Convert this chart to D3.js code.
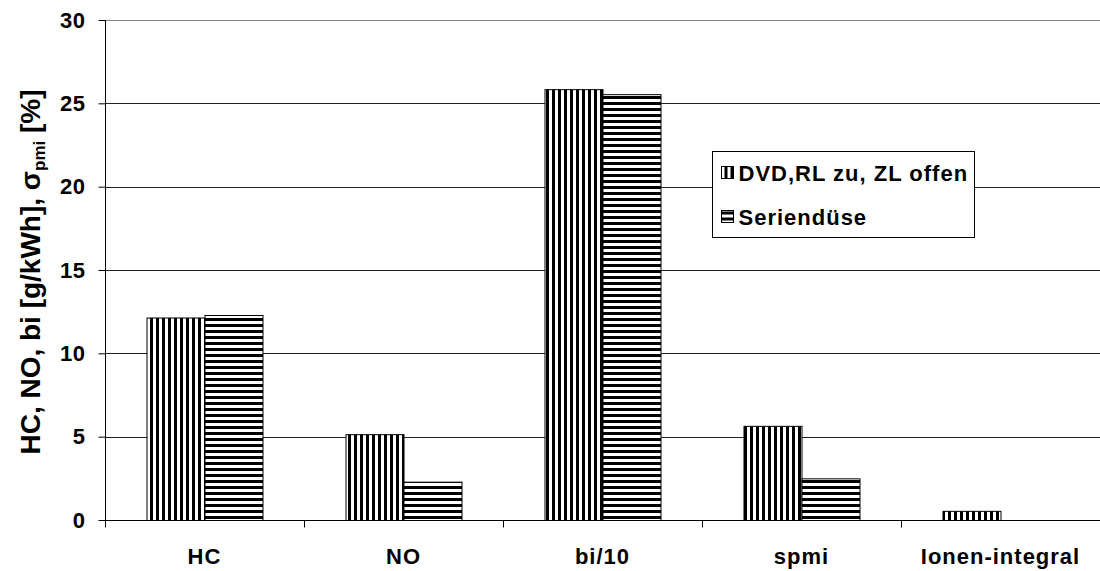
<!DOCTYPE html>
<html>
<head>
<meta charset="utf-8">
<script src="https://cdn.jsdelivr.net/npm/d3@7"></script>
<style>
  html, body { margin: 0; padding: 0; background: #fff; }
  svg { display: block; font-family: "Liberation Sans", Arial, sans-serif; }
</style>
</head>
<body>
<svg id="chart" width="1100" height="571"></svg>
<script>
// Measured quantities per operating point
const categories = ["HC", "NO", "bi/10", "spmi", "Ionen-integral"];
const dvdValues = [12.15, 5.15, 25.85, 5.65, 0.55];
const serieValues = [12.3, 2.3, 25.55, 2.5, null];
const seriesNames = ["DVD,RL zu, ZL offen", "Seriendüse"];
const yTicks = [0, 5, 10, 15, 20, 25, 30];

const svg = d3.select("#chart");
const margin = { left: 105, right: 0, top: 20, bottom: 51 };
const W = 1100, H = 571;

// Stripe fills: vertical for the first series, horizontal for the second
const defs = svg.append("defs");
const pv = defs.append("pattern").attr("id", "vstripe")
  .attr("patternUnits", "userSpaceOnUse").attr("width", 6).attr("height", 6);
pv.append("rect").attr("width", 6).attr("height", 6).attr("fill", "#fff");
pv.append("rect").attr("x", 0).attr("width", 3).attr("height", 6).attr("fill", "#000");
const ph = defs.append("pattern").attr("id", "hstripe")
  .attr("patternUnits", "userSpaceOnUse").attr("width", 6).attr("height", 6);
ph.append("rect").attr("width", 6).attr("height", 6).attr("fill", "#fff");
ph.append("rect").attr("y", 0).attr("width", 6).attr("height", 3).attr("fill", "#000");
const fills = ["url(#vstripe)", "url(#hstripe)"];

const x = d3.scaleBand().domain(categories).range([margin.left, W - margin.right]);
const y = d3.scaleLinear().domain([0, 30]).range([H - margin.bottom, margin.top]);

// Horizontal gridlines
svg.append("g").selectAll("line").data(yTicks.filter(t => t > 0)).join("line")
  .attr("x1", margin.left).attr("x2", W)
  .attr("y1", d => Math.round(y(d)) + 0.5).attr("y2", d => Math.round(y(d)) + 0.5)
  .attr("stroke", d => d === 30 ? "#8a8a8a" : "#222").attr("stroke-width", 1);

// Bars
const barW = 58;
const series = [dvdValues, serieValues];
series.forEach((vals, si) => {
  svg.append("g").selectAll("rect")
    .data(categories.map((c, i) => ({ c, v: vals[i] })).filter(d => d.v != null))
    .join("rect")
    .attr("x", d => x(d.c) + x.bandwidth() / 2 - barW + si * barW + 0.5)
    .attr("width", barW)
    .attr("y", d => y(d.v) + 0.5)
    .attr("height", d => y(0) - y(d.v))
    .attr("fill", fills[si])
    .attr("stroke", "#000").attr("stroke-width", 1);
});

// Y axis
const yAxis = svg.append("g").attr("transform", `translate(${margin.left + 0.5},0)`)
  .call(d3.axisLeft(y).tickValues(yTicks).tickSize(7).tickPadding(13).tickFormat(d3.format("d")));
yAxis.select(".domain").attr("stroke", "#000").attr("d", `M0,${y(30)}V${y(0)}`);
yAxis.selectAll("text").attr("font-size", 22).attr("font-weight", "bold").attr("fill", "#000")
  .attr("letter-spacing", 0.5)
  .attr("font-family", "'Liberation Sans', Arial, sans-serif");

// X axis with ticks on category boundaries
const xg = svg.append("g").attr("transform", `translate(0,${Math.round(y(0)) + 0.5})`);
xg.append("line").attr("x1", margin.left).attr("x2", W).attr("stroke", "#000");
const bounds = categories.map(c => x(c));
xg.selectAll("line.tk").data(bounds).join("line").attr("class", "tk")
  .attr("x1", d => Math.round(d) + 0.5).attr("x2", d => Math.round(d) + 0.5)
  .attr("y1", 0).attr("y2", 7).attr("stroke", "#000");
xg.selectAll("text").data(categories).join("text")
  .attr("x", d => x(d) + x.bandwidth() / 2)
  .attr("y", 43)
  .attr("text-anchor", "middle")
  .attr("letter-spacing", 1)
  .attr("font-size", 22).attr("font-weight", "bold").text(d => d);

// Y axis title with subscript
const yt = svg.append("text")
  .attr("transform", `translate(40,${(y(0) + y(30)) / 2 + 2}) rotate(-90)`)
  .attr("text-anchor", "middle")
  .attr("font-size", 28).attr("font-weight", "bold");
yt.append("tspan").text("HC, NO, bi [g/kWh], σ");
yt.append("tspan").attr("font-size", 17).attr("dy", 5).text("pmi");
yt.append("tspan").attr("dy", -5).text(" [%]");

// Legend
const lg = svg.append("g").attr("transform", "translate(712.5,151.5)");
const box = lg.append("rect").attr("height", 86)
  .attr("fill", "#fff").attr("stroke", "#000");
let maxLen = 0;
seriesNames.forEach((name, i) => {
  const cy = 21 + i * 44;
  lg.append("rect").attr("x", 9).attr("y", cy - 6).attr("width", 12).attr("height", 12)
    .attr("fill", fills[i]).attr("stroke", "#000");
  const t = lg.append("text").attr("x", 26).attr("y", cy + 8)
    .attr("font-size", 22).attr("font-weight", "bold").attr("letter-spacing", 1).text(name);
  maxLen = Math.max(maxLen, t.node().getComputedTextLength());
});
box.attr("width", Math.round(26 + maxLen + 6));
</script>
</body>
</html>
